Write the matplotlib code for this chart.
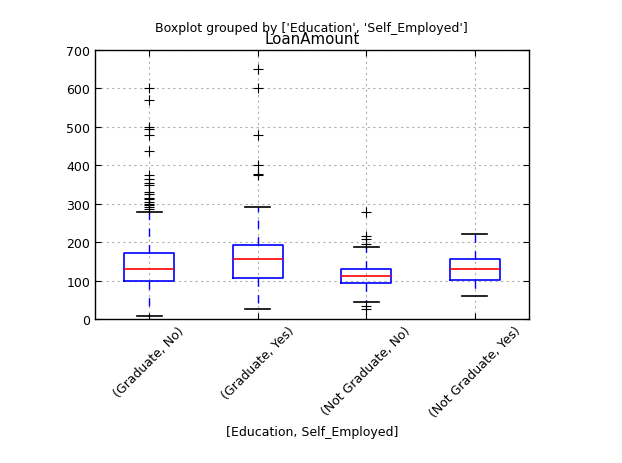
import numpy as np
import matplotlib
matplotlib.use("Agg")
import matplotlib.pyplot as plt

# -- Data (LoanAmount by Education / Self_Employed) --
groups = ["(Graduate, No)", "(Graduate, Yes)", "(Not Graduate, No)", "(Not Graduate, Yes)"]
medians = [129, 157, 113, 130]
q1 = [100, 106, 93, 102]
q3 = [171, 193, 131, 157]
whisker_low = [9, 25, 44, 60]
whisker_high = [279, 291, 187, 222]
fliers_grad_no = [600, 570, 500, 495, 480, 436, 374, 365, 355, 348, 330, 324,
                  315, 311, 304, 300, 296, 292, 286]
fliers_grad_yes = [650, 600, 479, 400, 378, 375]
fliers_notgrad_no = [278, 216, 207, 196, 35, 25]
fliers_notgrad_yes = []

fliers = [fliers_grad_no, fliers_grad_yes, fliers_notgrad_no, fliers_notgrad_yes]

stats = []
for i, name in enumerate(groups):
    stats.append({
        "label": name,
        "med": medians[i],
        "q1": q1[i],
        "q3": q3[i],
        "whislo": whisker_low[i],
        "whishi": whisker_high[i],
        "fliers": np.array(fliers[i]),
    })

fig = plt.figure(figsize=(6.22, 4.64), dpi=100, facecolor="white")
ax = fig.add_axes([95 / 622, 1 - 320 / 464, 434 / 622, 269 / 464])

ax.bxp(stats, positions=[1, 2, 3, 4], widths=0.46, showfliers=True,
       boxprops=dict(color="blue", linewidth=1.2),
       medianprops=dict(color="red", linewidth=1.2),
       whiskerprops=dict(color="blue", linestyle=(0, (6, 6)), linewidth=1.0),
       capprops=dict(color="black", linewidth=1.2),
       flierprops=dict(marker="+", markeredgecolor="black", markersize=7,
                       markeredgewidth=0.8, linestyle="none"))

ax.set_xlim(0.5, 4.5)
ax.set_ylim(0, 700)
ax.set_yticks(np.arange(0, 701, 100))
ax.set_xticks([1, 2, 3, 4])
ax.set_xticklabels(groups, rotation=45, fontsize=9)
ax.tick_params(axis="y", labelsize=9)
ax.tick_params(direction="in", top=True, right=True, length=4)
ax.grid(True, color="#b0b0b0", linestyle=(0, (2, 3)), linewidth=0.8)
ax.set_axisbelow(True)
for s in ax.spines.values():
    s.set_linewidth(1.0)

ax.set_title("LoanAmount", fontsize=10.8, pad=5)
ax.set_xlabel("[Education, Self_Employed]", fontsize=9)
fig.suptitle("Boxplot grouped by ['Education', 'Self_Employed']", fontsize=9, y=0.952)

fig.savefig("out.png", dpi=100, facecolor="white")
